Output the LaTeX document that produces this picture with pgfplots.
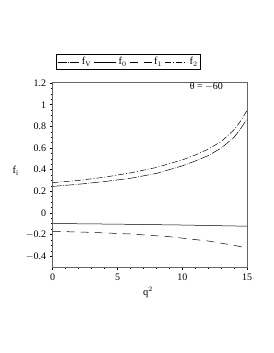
\documentclass[border=0pt]{standalone}
\usepackage{pgfplots}
\pgfplotsset{compat=1.18}
\usepackage{fontspec}
\setmainfont{Liberation Serif}
\begin{document}
\begin{tikzpicture}[x=1pt,y=1pt]
\path (0,0) rectangle (273,353);
\begin{axis}[
  at={(52.7pt,86pt)}, anchor=south west,
  scale only axis, width=194.5pt, height=185pt,
  xmin=0, xmax=15, ymin=-0.5, ymax=1.21,
  xtick={0,5,10,15}, ytick={-0.4,-0.2,0,0.2,0.4,0.6,0.8,1,1.2},
  yticklabels={$-$0.4,$-$0.2,0,0.2,0.4,0.6,0.8,1,1.2},
  minor x tick num=4, minor y tick num=3,
  tick align=outside, xtick pos=bottom, ytick pos=left,
  major tick length=3pt, minor tick length=2pt,
  axis line style={gray!80!black, line width=0.6pt}, every tick/.style={black, line width=0.5pt},
  tick label style={font=\fontsize{10}{11}\selectfont},
  /pgf/number format/assume math mode=true,
  xlabel={q$^2$}, ylabel={f$_\mathrm{i}$},
  label style={font=\fontsize{10.5}{11}\selectfont},
  xlabel style={at={(axis description cs:0.49,-0.09)}, anchor=north},
  ylabel style={rotate=-90, at={(axis description cs:-0.19,0.52)}, anchor=center},
  legend columns=4,
  legend style={at={(axis description cs:0.017,1.15)}, anchor=north west, draw=black, line width=0.5pt,
    font=\fontsize{10.5}{11}\selectfont, inner sep=1pt,
    /tikz/every even column/.append style={column sep=1pt}},
  legend cell align=left,
  legend image code/.code={\draw[#1] (0pt,0pt) -- (22pt,0pt);},
]
\addplot[black, line width=0.5pt, dash pattern=on 9pt off 1.5pt on 0.6pt off 1.5pt] coordinates {
(0,0.245)(2,0.265)(4,0.29)(6,0.32)(8,0.365)(10,0.435)(11,0.48)(12,0.53)(13,0.60)(14,0.70)(14.5,0.78)(15,0.87)};
\addlegendentry{f$_\mathrm{V}$}
\addplot[black, line width=0.5pt] coordinates {
(0,-0.098)(5,-0.104)(10,-0.112)(15,-0.123)};
\addlegendentry{f$_0$}
\addplot[black, line width=0.5pt, dash pattern=on 8pt off 6pt] coordinates {
(0,-0.17)(3,-0.18)(6,-0.195)(9,-0.22)(12,-0.26)(14,-0.30)(15,-0.325)};
\addlegendentry{f$_1$}
\addplot[black, line width=0.5pt, dash pattern=on 6pt off 2pt on 1pt off 2pt] coordinates {
(0,0.28)(2,0.30)(4,0.33)(6,0.37)(8,0.42)(10,0.49)(11,0.535)(12,0.59)(13,0.66)(14,0.77)(14.5,0.85)(15,0.95)};
\addlegendentry{f$_2$}
\node[font=\fontsize{10}{11}\selectfont] at (axis description cs:0.79,0.975) {θ = $-$60};
\end{axis}
\end{tikzpicture}
\end{document}
